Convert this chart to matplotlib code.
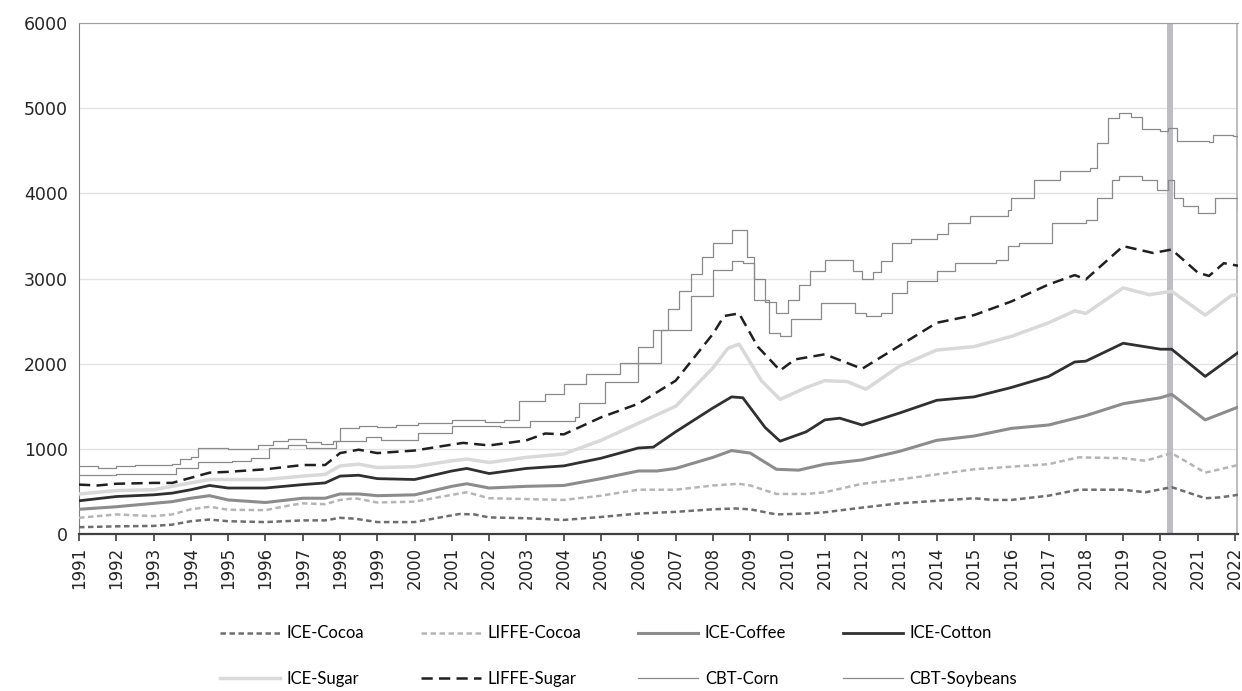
import matplotlib
matplotlib.use("Agg")
import matplotlib.pyplot as plt

plt.rcParams['font.family'] = ['DejaVu Sans']

# ---- data ----
years = list(range(1991, 2023))

ice_cocoa_t = [1991.0, 1992.0, 1993.0, 1993.5, 1994.0, 1994.5, 1995.0, 1996.0, 1997.0, 1997.6,
               1998.0, 1998.4, 1999.0, 2000.0, 2000.5, 2001.2, 2001.6, 2002.0, 2003.0, 2004.0,
               2005.0, 2006.0, 2007.0, 2008.0, 2008.6, 2009.0, 2009.7, 2010.5, 2011.0, 2012.0,
               2013.0, 2014.0, 2015.0, 2015.5, 2016.0, 2017.0, 2017.8, 2019.0, 2019.6, 2020.3,
               2021.2, 2021.6, 2022.08]
ice_cocoa_v = [80, 90, 95, 110, 150, 170, 150, 140, 160, 160,
               190, 180, 140, 140, 180, 235, 230, 195, 185, 165,
               200, 240, 260, 290, 300, 290, 230, 240, 255, 310,
               360, 390, 420, 400, 400, 450, 520, 520, 490, 550,
               420, 430, 460]

liffe_cocoa_t = [1991.0, 1992.0, 1993.0, 1993.5, 1994.0, 1994.5, 1995.0, 1996.0, 1996.7, 1997.0,
                 1997.6, 1998.0, 1998.4, 1999.0, 2000.0, 2001.0, 2001.4, 2002.0, 2003.0, 2004.0,
                 2005.0, 2006.0, 2007.0, 2008.0, 2008.7, 2009.0, 2009.7, 2010.5, 2011.0, 2012.0,
                 2013.0, 2014.0, 2015.0, 2016.0, 2017.0, 2017.8, 2019.0, 2019.6, 2020.3, 2021.2,
                 2022.08]
liffe_cocoa_v = [190, 230, 210, 230, 290, 320, 285, 280, 340, 360,
                 350, 400, 420, 370, 380, 460, 490, 420, 410, 400,
                 450, 520, 520, 570, 590, 570, 470, 470, 490, 590,
                 640, 700, 760, 790, 820, 900, 890, 860, 950, 720,
                 810]

ice_coffee_t = [1991.0, 1992.0, 1993.0, 1993.5, 1994.0, 1994.5, 1995.0, 1996.0, 1997.0, 1997.6,
                1998.0, 1998.5, 1999.0, 2000.0, 2001.0, 2001.4, 2002.0, 2003.0, 2004.0, 2005.0,
                2006.0, 2006.5, 2007.0, 2008.0, 2008.5, 2009.0, 2009.7, 2010.3, 2011.0, 2012.0,
                2013.0, 2014.0, 2015.0, 2016.0, 2017.0, 2018.0, 2019.0, 2020.0, 2020.3, 2021.2,
                2022.08]
ice_coffee_v = [290, 320, 360, 380, 420, 450, 400, 370, 420, 420,
                470, 470, 450, 460, 560, 590, 540, 560, 570, 650,
                740, 740, 770, 900, 980, 950, 760, 750, 820, 870,
                970, 1100, 1150, 1240, 1280, 1390, 1530, 1600, 1640, 1340,
                1490]

ice_cotton_t = [1991.0, 1992.0, 1993.0, 1993.5, 1994.0, 1994.5, 1995.0, 1996.0, 1997.0, 1997.6,
                1998.0, 1998.5, 1999.0, 2000.0, 2001.0, 2001.4, 2002.0, 2003.0, 2004.0, 2005.0,
                2006.0, 2006.4, 2007.0, 2008.0, 2008.5, 2008.8, 2009.4, 2009.8, 2010.5, 2011.0,
                2011.4, 2012.0, 2013.0, 2014.0, 2015.0, 2016.0, 2017.0, 2017.7, 2018.0, 2019.0,
                2020.0, 2020.3, 2021.2, 2022.08]
ice_cotton_v = [390, 440, 460, 480, 520, 570, 540, 540, 580, 600,
                680, 690, 650, 640, 740, 770, 710, 770, 800, 890,
                1010, 1020, 1200, 1480, 1610, 1600, 1250, 1090, 1200, 1340,
                1360, 1280, 1420, 1570, 1610, 1720, 1850, 2020, 2030, 2240,
                2170, 2170, 1850, 2130]

ice_sugar_t = [1991.0, 1992.0, 1993.0, 1994.0, 1994.5, 1995.0, 1996.0, 1997.0, 1997.6, 1998.0,
               1998.5, 1999.0, 2000.0, 2001.0, 2001.4, 2002.0, 2003.0, 2004.0, 2005.0, 2006.0,
               2007.0, 2008.0, 2008.4, 2008.7, 2009.3, 2009.8, 2010.5, 2011.0, 2011.6, 2012.1,
               2013.0, 2014.0, 2015.0, 2016.0, 2017.0, 2017.7, 2018.0, 2019.0, 2019.7, 2020.3,
               2021.2, 2021.9, 2022.08]
ice_sugar_v = [470, 510, 520, 600, 640, 640, 640, 680, 700, 800,
               820, 780, 790, 860, 880, 840, 900, 940, 1100, 1300,
               1500, 1950, 2180, 2230, 1800, 1580, 1720, 1800, 1790, 1700,
               1970, 2160, 2200, 2320, 2480, 2620, 2590, 2890, 2810, 2850,
               2570, 2800, 2810]

liffe_sugar_t = [1991.0, 1991.5, 1992.0, 1993.0, 1993.5, 1994.0, 1994.5, 1995.0, 1996.0, 1997.0,
                 1997.6, 1998.0, 1998.5, 1999.0, 2000.0, 2001.0, 2001.3, 2002.0, 2003.0, 2003.5,
                 2004.0, 2005.0, 2006.0, 2007.0, 2008.0, 2008.3, 2008.7, 2009.2, 2009.8, 2010.2,
                 2011.0, 2012.0, 2013.0, 2014.0, 2015.0, 2016.0, 2017.0, 2017.7, 2018.0, 2019.0,
                 2019.8, 2020.3, 2021.0, 2021.3, 2021.7, 2022.08]
liffe_sugar_v = [580, 570, 590, 600, 600, 660, 720, 730, 760, 810,
                 810, 950, 990, 950, 980, 1050, 1070, 1040, 1100, 1180,
                 1170, 1370, 1530, 1800, 2350, 2560, 2590, 2200, 1920, 2050,
                 2110, 1940, 2210, 2480, 2570, 2730, 2930, 3040, 2990, 3380,
                 3300, 3340, 3070, 3030, 3180, 3150]

cbt_corn_t = [1991.0, 1992.0, 1993.5, 1993.6, 1994.2, 1995.1, 1995.6, 1996.1, 1996.6, 1997.1,
              1997.9, 1998.7, 1999.1, 2000.1, 2001.0, 2002.3, 2003.1, 2004.3, 2004.4, 2005.1,
              2006.0, 2006.6, 2007.4, 2008.0, 2008.5, 2008.8, 2009.1, 2009.5, 2009.8, 2010.1,
              2010.9, 2011.8, 2012.1, 2012.5, 2012.8, 2013.2, 2014.0, 2014.5, 2015.6, 2015.9,
              2016.2, 2017.1, 2018.0, 2018.3, 2018.7, 2018.9, 2019.5, 2019.9, 2020.2, 2020.35,
              2020.6, 2021.0, 2021.45, 2021.95, 2022.08]
cbt_corn_v = [690, 710, 710, 780, 840, 860, 890, 1010, 1040, 1010,
              1090, 1140, 1100, 1190, 1270, 1260, 1330, 1370, 1540, 1780,
              2010, 2400, 2790, 3100, 3200, 3180, 2750, 2360, 2320, 2520,
              2710, 2600, 2560, 2600, 2830, 2970, 3090, 3180, 3220, 3380,
              3420, 3650, 3690, 3940, 4160, 4200, 4160, 4040, 4160, 3940,
              3850, 3770, 3940, 3950, 3810]

cbt_soy_t = [1991.0, 1991.5, 1992.0, 1992.5, 1993.5, 1993.7, 1994.0, 1994.2, 1995.0, 1995.8,
             1996.2, 1996.6, 1997.1, 1997.5, 1997.8, 1998.0, 1998.5, 1999.0, 1999.5, 2000.1,
             2001.0, 2001.9, 2002.4, 2002.8, 2003.5, 2004.0, 2004.6, 2005.5, 2006.0, 2006.4,
             2006.8, 2007.1, 2007.4, 2007.7, 2008.0, 2008.5, 2008.9, 2009.1, 2009.4, 2009.7,
             2010.0, 2010.3, 2010.6, 2011.0, 2011.75, 2012.0, 2012.3, 2012.5, 2012.8, 2013.3,
             2014.0, 2014.3, 2014.9, 2015.9, 2016.0, 2016.6, 2017.3, 2018.1, 2018.3, 2018.6,
             2018.9, 2019.2, 2019.5, 2020.0, 2020.2, 2020.45, 2021.3, 2021.4, 2021.95, 2022.08]
cbt_soy_v = [800, 780, 800, 810, 820, 880, 900, 1010, 1000, 1050,
             1090, 1110, 1080, 1060, 1090, 1240, 1270, 1260, 1280, 1300,
             1340, 1320, 1340, 1560, 1640, 1760, 1880, 2010, 2200, 2400,
             2640, 2850, 3050, 3250, 3420, 3570, 3250, 2990, 2720, 2600,
             2750, 2920, 3090, 3220, 3090, 3000, 3080, 3200, 3420, 3460,
             3520, 3650, 3730, 3810, 3940, 4160, 4260, 4300, 4590, 4880,
             4940, 4900, 4750, 4730, 4770, 4610, 4600, 4690, 4670, 4520]

# shaded periods (decimal years)
bands = [(2020.17, 2020.33), (2022.03, 2022.07)]

# ---- figure ----
fig = plt.figure(figsize=(12.42, 6.91), dpi=100)
ax = fig.add_axes([0.0636, 0.2272, 0.9332, 0.7395])

for b0, b1 in bands:
    ax.axvspan(b0, b1, color='#bdbdc2', lw=0, zorder=1)

ax.plot(ice_cocoa_t, ice_cocoa_v, color='#6e6e6e', lw=1.8, dashes=(2.2, 1.4), label='ICE-Cocoa', zorder=3)
ax.plot(liffe_cocoa_t, liffe_cocoa_v, color='#b5b5b5', lw=1.8, dashes=(2.2, 1.4), label='LIFFE-Cocoa', zorder=3)
ax.plot(ice_coffee_t, ice_coffee_v, color='#8c8c8c', lw=2.2, label='ICE-Coffee', zorder=3)
ax.plot(ice_cotton_t, ice_cotton_v, color='#303030', lw=2.0, label='ICE-Cotton', zorder=3)
ax.plot(ice_sugar_t, ice_sugar_v, color='#d9d9d9', lw=2.5, label='ICE-Sugar', zorder=3)
ax.plot(liffe_sugar_t, liffe_sugar_v, color='#202020', lw=1.8, dashes=(4.5, 2.5), label='LIFFE-Sugar', zorder=3)
ax.plot(cbt_corn_t, cbt_corn_v, color='#8a8a8a', lw=0.9, drawstyle='steps-post', label='CBT-Corn', zorder=3)
ax.plot(cbt_soy_t, cbt_soy_v, color='#8a8a8a', lw=0.9, drawstyle='steps-post', label='CBT-Soybeans', zorder=3)

ax.set_xlim(1991, 2022.08)
ax.set_ylim(0, 6000)
ax.set_yticks(range(0, 6001, 1000))
ax.set_xticks(years)
ax.set_xticklabels([str(y) for y in years], rotation=90)
ax.grid(axis='y', color='#e3e3e3', lw=1)
ax.set_axisbelow(True)

ax.spines['right'].set_visible(False)
ax.spines['top'].set_color('#a0a0a0')
ax.spines['left'].set_color('#808080')
ax.spines['bottom'].set_color('#404040')
ax.spines['bottom'].set_linewidth(1.6)
ax.tick_params(axis='y', length=0, labelsize=12.5, labelcolor='#262626', pad=8)
ax.tick_params(axis='x', length=5, width=1.2, color='#404040', labelsize=12, labelcolor='#262626', pad=4)

# legend fills column-wise, so interleave to get row-wise order
handles, labels = ax.get_legend_handles_labels()
order = [0, 4, 1, 5, 2, 6, 3, 7]
fig.legend([handles[i] for i in order], [labels[i] for i in order],
           loc='center', bbox_to_anchor=(0.498, 0.0506), ncol=4, frameon=False,
           handlelength=3.6, handletextpad=0.4, columnspacing=3.4, labelspacing=1.75,
           prop={'family': ['Lato', 'DejaVu Sans'], 'size': 12})

fig.savefig('out.png', dpi=100)
